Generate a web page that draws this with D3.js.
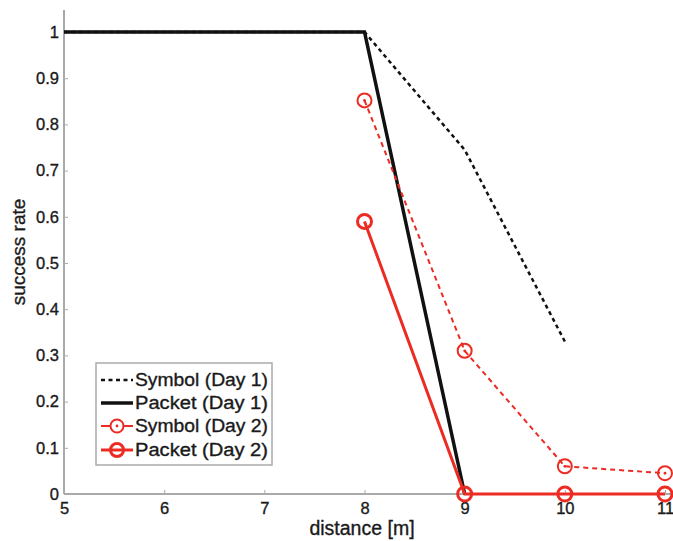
<!DOCTYPE html>
<html>
<head>
<meta charset="utf-8">
<script src="https://cdn.jsdelivr.net/npm/d3@7"></script>
<style>
  body { margin: 0; background: #fff; }
  svg { display: block; }
  text { font-family: "Liberation Sans", Arial, Helvetica, sans-serif; fill: #1a1a1a; stroke: #1a1a1a; stroke-width: 0.35px; }
</style>
</head>
<body>
<svg id="chart" width="673" height="541"></svg>
<script>
// Success rate versus distance, two measurement days
const xTicks = [5, 6, 7, 8, 9, 10, 11];
const yTicks = [0, 0.1, 0.2, 0.3, 0.4, 0.5, 0.6, 0.7, 0.8, 0.9, 1];

const symbolDay1X = [5, 8, 9, 10];
const symbolDay1Y = [1, 1, 0.745, 0.33];
const packetDay1X = [5, 8, 9];
const packetDay1Y = [1, 1, 0];
const symbolDay2X = [8, 9, 10, 11];
const symbolDay2Y = [0.852, 0.31, 0.06, 0.045];
const packetDay2X = [8, 9, 10, 11];
const packetDay2Y = [0.59, 0, 0, 0];

const legendLabels = ["Symbol (Day 1)", "Packet (Day 1)", "Symbol (Day 2)", "Packet (Day 2)"];

const svg = d3.select("#chart");
const x = d3.scaleLinear().domain([5, 11]).range([64, 665]);
const y = d3.scaleLinear().domain([0, 1]).range([494, 32]);

const zip = (xs, ys) => xs.map((v, i) => [v, ys[i]]);
const line = d3.line().x(d => x(d[0])).y(d => y(d[1]));

// Axes
const axisColor = "#aaa";
const gx = svg.append("g").attr("transform", "translate(0,494)")
  .call(d3.axisBottom(x).tickValues(xTicks).tickFormat(d3.format("d")).tickSizeInner(-4).tickSizeOuter(0).tickPadding(8));
gx.select(".domain").attr("stroke", axisColor).attr("stroke-width", 2).attr("d", "M64,0H673");
gx.selectAll(".tick line").attr("stroke", axisColor);
gx.selectAll(".tick text").attr("font-size", 16.5).attr("dy", "0.72em").attr("fill", null);

const gy = svg.append("g").attr("transform", "translate(64,0)")
  .call(d3.axisLeft(y).tickValues(yTicks).tickFormat(d3.format("~g")).tickSizeInner(-4).tickSizeOuter(0).tickPadding(5));
gy.select(".domain").attr("stroke", axisColor).attr("stroke-width", 2).attr("d", "M0,10V494");
gy.selectAll(".tick line").attr("stroke", axisColor);
gy.selectAll(".tick text").attr("font-size", 16.5).attr("fill", null);

// Axis titles
svg.append("text").attr("x", 362).attr("y", 535).attr("text-anchor", "middle")
  .attr("font-size", 19.5).text("distance [m]");
svg.append("text").attr("transform", "translate(25,252) rotate(-90)").attr("text-anchor", "middle")
  .attr("font-size", 19).text("success rate");

// Series
const red = "#ec2b23";
svg.append("path").datum(zip(symbolDay1X, symbolDay1Y)).attr("d", line)
  .attr("fill", "none").attr("stroke", "#111").attr("stroke-width", 2.5).attr("stroke-dasharray", "4,3.5");
svg.append("path").datum(zip(packetDay1X, packetDay1Y)).attr("d", line)
  .attr("fill", "none").attr("stroke", "#111").attr("stroke-width", 3.5);
svg.append("path").datum(zip(symbolDay2X, symbolDay2Y)).attr("d", line)
  .attr("fill", "none").attr("stroke", red).attr("stroke-width", 2).attr("stroke-dasharray", "5,4");
svg.append("path").datum(zip(packetDay2X, packetDay2Y)).attr("d", line)
  .attr("fill", "none").attr("stroke", red).attr("stroke-width", 3);

// Markers
const sym2 = svg.append("g").selectAll("g").data(zip(symbolDay2X, symbolDay2Y)).join("g")
  .attr("transform", d => `translate(${x(d[0])},${y(d[1])})`);
sym2.append("circle").attr("r", 7).attr("fill", "none").attr("stroke", red).attr("stroke-width", 2);
sym2.append("circle").attr("r", 1.4).attr("fill", red);

svg.append("g").selectAll("circle").data(zip(packetDay2X, packetDay2Y)).join("circle")
  .attr("cx", d => x(d[0])).attr("cy", d => y(d[1])).attr("r", 7)
  .attr("fill", "none").attr("stroke", red).attr("stroke-width", 3);

// Legend
const lg = svg.append("g");
lg.append("rect").attr("x", 96).attr("y", 363).attr("width", 176).attr("height", 102)
  .attr("fill", "#fff").attr("stroke", "#aaa").attr("stroke-width", 1.5);
const rowY = [380, 403, 426, 450];
const styles = [
  { stroke: "#111", w: 2.5, dash: "4,3.5", marker: null },
  { stroke: "#111", w: 3.5, dash: null, marker: null },
  { stroke: red, w: 2, dash: null, marker: "sym" },
  { stroke: red, w: 3, dash: null, marker: "pkt" }
];
legendLabels.forEach((lab, i) => {
  const s = styles[i];
  const g = lg.append("g").attr("transform", `translate(0,${rowY[i]})`);
  g.append("line").attr("x1", 101).attr("x2", 133).attr("y1", 0).attr("y2", 0)
    .attr("stroke", s.stroke).attr("stroke-width", s.w).attr("stroke-dasharray", s.dash);
  if (s.marker === "sym") {
    g.append("circle").attr("cx", 117).attr("r", 6.5).attr("fill", "#fff").attr("stroke", red).attr("stroke-width", 2);
    g.append("circle").attr("cx", 117).attr("r", 1.4).attr("fill", red);
  } else if (s.marker === "pkt") {
    g.append("circle").attr("cx", 117).attr("r", 6.5).attr("fill", "none").attr("stroke", red).attr("stroke-width", 3);
  }
  g.append("text").attr("x", 135).attr("y", 0).attr("dy", "0.35em").attr("font-size", 18)
    .attr("textLength", 133).attr("lengthAdjust", "spacingAndGlyphs").text(lab);
});
</script>
</body>
</html>
